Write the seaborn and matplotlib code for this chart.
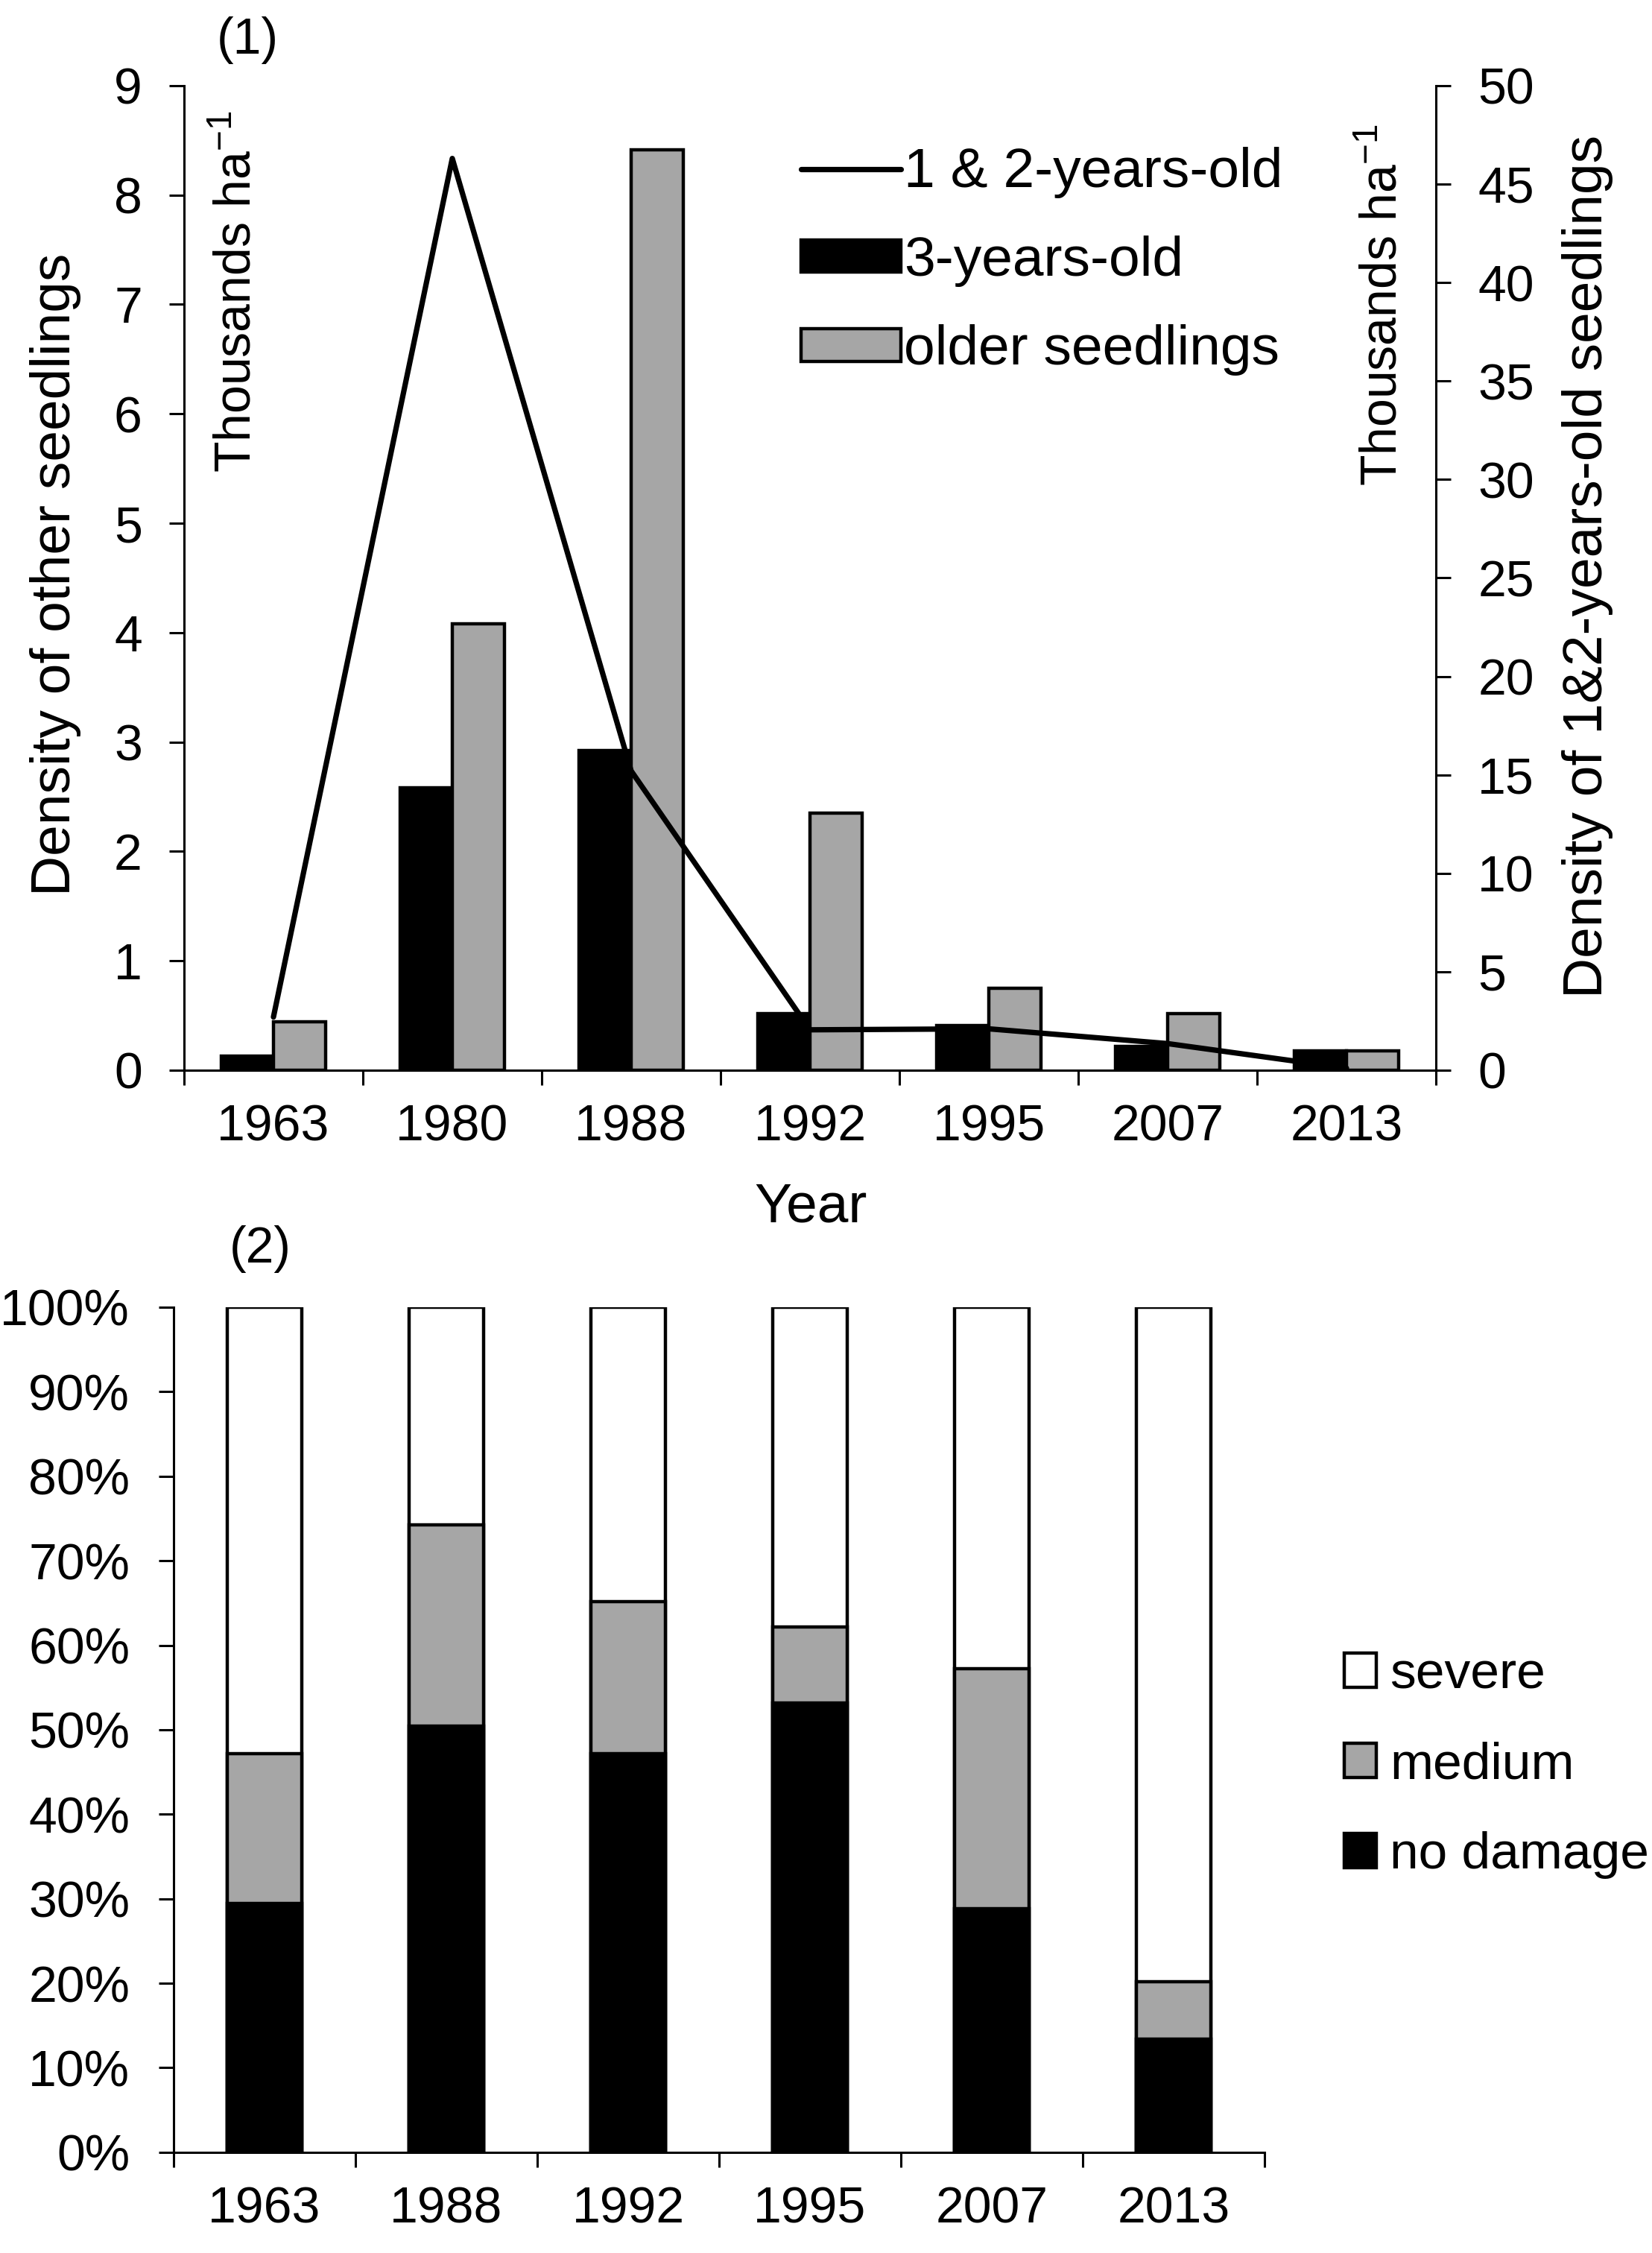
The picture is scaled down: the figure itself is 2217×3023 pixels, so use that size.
import numpy as np
import pandas as pd
import matplotlib
matplotlib.use('Agg')
import matplotlib.pyplot as plt
from matplotlib.lines import Line2D
from matplotlib.patches import Patch
from matplotlib.ticker import PercentFormatter
import seaborn as sns

# (1) seedling densities
years_top = ['1963', '1980', '1988', '1992', '1995', '2007', '2013']
three_yr = [0.13, 2.58, 2.92, 0.52, 0.41, 0.22, 0.18]
older = [0.44, 4.08, 8.41, 2.35, 0.75, 0.52, 0.18]
one_two_yr = [2.7, 46.3, 15.2, 2.05, 2.1, 1.35, 0.1]

# (2) damage shares (%)
years_dmg = ['1963', '1988', '1992', '1995', '2007', '2013']
no_damage = [29.4, 50.4, 47.2, 53.2, 28.8, 13.4]
medium = [17.8, 23.8, 18.0, 9.0, 28.4, 6.8]
severe = [52.8, 25.8, 34.8, 37.8, 42.8, 79.8]

GREY = '#a6a6a6'
FS = 24.5      # tick labels
FS_LAB = 27    # axis titles / top legend
LW = 1.1

sns.set_style('ticks', rc={'axes.edgecolor': 'black', 'text.color': 'black',
                           'xtick.color': 'black', 'ytick.color': 'black',
                           'axes.labelcolor': 'black'})
plt.rcParams['font.family'] = ['Liberation Sans', 'DejaVu Sans']
plt.rcParams['mathtext.fontset'] = 'custom'
plt.rcParams['mathtext.rm'] = 'Liberation Sans'
plt.rcParams['mathtext.it'] = 'Liberation Sans:italic'
plt.rcParams['font.size'] = FS

fig = plt.figure(figsize=(11.085, 15.115), dpi=200)

# ---- panel 1 ----
ax = fig.add_axes([0.1114, 0.525, 0.7578, 0.437])
df_top = pd.DataFrame({
    'year': years_top * 2,
    'density': three_yr + older,
    'cls': ['3-years-old'] * len(years_top) + ['older seedlings'] * len(years_top),
})
sns.barplot(data=df_top, x='year', y='density', hue='cls', palette=['black', GREY],
            width=0.583, edgecolor='black', linewidth=1.6, errorbar=None,
            legend=False, ax=ax)
ax.set(xlabel='', ylabel='')

ax2 = ax.twinx()
sns.lineplot(x=np.arange(len(years_top)), y=one_two_yr, color='black',
             linewidth=2.6, ax=ax2, legend=False)

ax.set_xlim(-0.5, len(years_top) - 0.5)
ax.set_ylim(0, 9)
ax.set_yticks(range(0, 10))
ax2.set_ylim(0, 50)
ax2.set_yticks(range(0, 51, 5))
ax2.set_ylabel('')

ax.set_xticks(np.arange(-0.5, len(years_top), 1), minor=True)
ax.tick_params(axis='x', which='major', length=0, pad=16, labelsize=FS)
ax.tick_params(axis='x', which='minor', length=7.2, width=LW, direction='out')
ax.tick_params(axis='y', length=7.2, width=LW, pad=13, labelsize=FS)
ax2.tick_params(axis='y', length=7.2, width=LW, pad=13, labelsize=FS)
ax2.tick_params(axis='y', which='minor', length=0)
ax.tick_params(axis='y', which='minor', length=0)

for s in ['top', 'right']:
    ax.spines[s].set_visible(False)
ax2.spines['top'].set_visible(False)
ax2.spines['left'].set_visible(False)
ax2.spines['bottom'].set_visible(False)
for a in (ax, ax2):
    for s in a.spines.values():
        s.set_linewidth(LW)

top_handles = [
    Line2D([0], [0], color='black', linewidth=2.6),
    Patch(facecolor='black', edgecolor='black', linewidth=1.6),
    Patch(facecolor=GREY, edgecolor='black', linewidth=1.6),
]
top_labels = ['1 & 2-years-old', '3-years-old', 'older seedlings']
fig.legend(top_handles, top_labels, loc='center left', bbox_to_anchor=(0.485, 0.884),
           bbox_transform=fig.transFigure, frameon=False, fontsize=FS_LAB,
           handlelength=1.79, handleheight=0.52, handletextpad=0.05,
           labelspacing=0.67, borderpad=0, borderaxespad=0)

fig.text(0.0334, 0.745, 'Density of other seedlings', rotation=90,
         ha='center', va='center', fontsize=FS_LAB)
fig.text(0.9612, 0.7486, 'Density of 1&2-years-old seedlings', rotation=90,
         ha='center', va='center', fontsize=FS_LAB)
fig.text(0.1434, 0.8707, r'Thousands ha$^{\mathrm{-1}}$', rotation=90,
         ha='center', va='center', fontsize=FS)
fig.text(0.8372, 0.8647, r'Thousands ha$^{\mathrm{-1}}$', rotation=90,
         ha='center', va='center', fontsize=FS)
fig.text(0.4908, 0.4641, 'Year', ha='center', va='center', fontsize=FS_LAB)
fig.text(0.150, 0.982, '(1)', ha='center', va='center', fontsize=FS)

# ---- panel 2 ----
ax3 = fig.add_axes([0.1051, 0.0447, 0.6603, 0.3751])
tot_all = [a + b + c for a, b, c in zip(no_damage, medium, severe)]
tot_mid = [a + b for a, b in zip(no_damage, medium)]
sns.barplot(x=years_dmg, y=tot_all, color='white', edgecolor='black',
            linewidth=1.6, width=0.41, errorbar=None, ax=ax3)
sns.barplot(x=years_dmg, y=tot_mid, color=GREY, edgecolor='black',
            linewidth=1.6, width=0.41, errorbar=None, ax=ax3)
sns.barplot(x=years_dmg, y=no_damage, color='black', edgecolor='black',
            linewidth=1.6, width=0.41, errorbar=None, ax=ax3)
ax3.set(xlabel='', ylabel='')
ax3.set_xlim(-0.5, len(years_dmg) - 0.5)
ax3.set_ylim(0, 100)
ax3.set_yticks(range(0, 101, 10))
ax3.yaxis.set_major_formatter(PercentFormatter(xmax=100, decimals=0))
ax3.set_xticks(np.arange(-0.5, len(years_dmg), 1), minor=True)
ax3.tick_params(axis='x', which='major', length=0, pad=16, labelsize=FS)
ax3.tick_params(axis='x', which='minor', length=7.2, width=LW, direction='out')
ax3.tick_params(axis='y', length=7.2, width=LW, pad=14, labelsize=FS)
ax3.tick_params(axis='y', which='minor', length=0)
for s in ['top', 'right']:
    ax3.spines[s].set_visible(False)
for s in ax3.spines.values():
    s.set_linewidth(LW)

dmg_handles = [
    Patch(facecolor='white', edgecolor='black', linewidth=1.6),
    Patch(facecolor=GREY, edgecolor='black', linewidth=1.6),
    Patch(facecolor='black', edgecolor='black', linewidth=1.6),
]
fig.legend(dmg_handles, ['severe', 'medium', 'no damage'], loc='center left',
           bbox_to_anchor=(0.8135, 0.2165), bbox_transform=fig.transFigure,
           frameon=False, fontsize=25, handlelength=0.63, handleheight=0.63,
           handletextpad=0.26, labelspacing=0.82, borderpad=0, borderaxespad=0)
fig.text(0.1574, 0.4456, '(2)', ha='center', va='center', fontsize=FS)

fig.savefig('out.png', dpi=200)
